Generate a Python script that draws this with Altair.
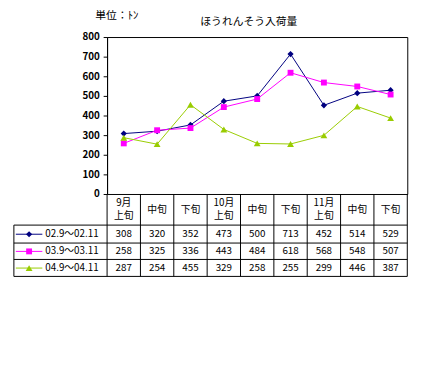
import altair as alt
import pandas as pd

cats = ["9月上旬", "9月中旬", "9月下旬", "10月上旬", "10月中旬", "10月下旬", "11月上旬", "11月中旬", "11月下旬"]
heads = ["9月\n上旬", "中旬", "下旬", "10月\n上旬", "中旬", "下旬", "11月\n上旬", "中旬", "下旬"]
series = ["02.9～02.11", "03.9～03.11", "04.9～04.11"]
v1 = [308, 320, 352, 473, 500, 713, 452, 514, 529]
v2 = [258, 325, 336, 443, 484, 618, 568, 548, 507]
v3 = [287, 254, 455, 329, 258, 255, 299, 446, 387]
colors = ["#000080", "#FF00FF", "#99CC00"]
shapes = ["diamond", "square", "triangle-up"]
sizes = [40, 36, 48]

FONT = "Noto Sans CJK JP"
W, H = 306, 160
row_y = [201, 218.5, 235.5]
hlines = [191.7, 210, 226.7, 244]

rows = []
for s, vals in zip(series, [v1, v2, v3]):
    for c, v in zip(cats, vals):
        rows.append({"cat": c, "series": s, "value": v})
df = pd.DataFrame(rows)
hdf = pd.DataFrame({"cat": cats, "head": heads})
one = pd.DataFrame({"k": [0]})

xs = alt.Scale(type="band", domain=cats, paddingInner=0, paddingOuter=0)
Xc = alt.X("cat:N", scale=xs, axis=None, bandPosition=0.5)
Y = alt.Y("value:Q", scale=alt.Scale(domain=[0, 800]),
          axis=alt.Axis(values=list(range(0, 801, 100)), title=None, grid=False,
                        domainColor="black", tickColor="black", tickSize=4,
                        labelPadding=4, labelFont=FONT, labelFontSize=10,
                        labelFontWeight="bold", labelColor="black"))

layers = []
for i, s in enumerate(series):
    b = alt.Chart(df).transform_filter(alt.datum.series == s)
    layers.append(b.mark_line(color=colors[i], strokeWidth=1).encode(x=Xc, y=Y))
for i, s in enumerate(series):
    b = alt.Chart(df).transform_filter(alt.datum.series == s)
    layers.append(b.mark_point(color=colors[i], filled=True, opacity=1, shape=shapes[i],
                               size=sizes[i]).encode(x=Xc, y=Y))
    layers.append(b.mark_text(font=FONT, fontSize=10, color="black", baseline="middle").encode(
        x=Xc, y=alt.value(row_y[i]), text="value:Q"))
    # legend cell
    lc = alt.Chart(one)
    layers.append(lc.mark_rule(color=colors[i], strokeWidth=1).encode(
        x=alt.value(-93), x2=alt.value(-66), y=alt.value(row_y[i])))
    layers.append(lc.mark_point(color=colors[i], filled=True, opacity=1, shape=shapes[i],
                                size=sizes[i]).encode(x=alt.value(-79.5), y=alt.value(row_y[i])))
    layers.append(lc.mark_text(font=FONT, fontSize=10, color="black", align="left",
                               baseline="middle").encode(
        x=alt.value(-63), y=alt.value(row_y[i]), text=alt.value(s)))

# header labels
hb = alt.Chart(hdf)
layers.append(hb.transform_filter("indexof(datum.head, '\\n') >= 0").mark_text(
    font=FONT, fontSize=10, color="black", lineBreak="\n", lineHeight=13, baseline="middle").encode(
    x=Xc, y=alt.value(169.5), text="head:N"))
layers.append(hb.transform_filter("indexof(datum.head, '\\n') < 0").mark_text(
    font=FONT, fontSize=10, color="black", baseline="middle").encode(
    x=Xc, y=alt.value(176), text="head:N"))
# vertical grid lines of table
layers.append(hb.mark_rule(color="black", strokeWidth=1).encode(
    x=alt.X("cat:N", scale=xs, axis=None, bandPosition=0), y=alt.value(H), y2=alt.value(hlines[-1])))
lc = alt.Chart(one)
layers.append(lc.mark_rule(color="black").encode(x=alt.value(W), y=alt.value(H), y2=alt.value(hlines[-1])))
layers.append(lc.mark_rule(color="black").encode(x=alt.value(-95), y=alt.value(hlines[0]), y2=alt.value(hlines[-1])))
for hy in hlines:
    layers.append(lc.mark_rule(color="black").encode(x=alt.value(-95), x2=alt.value(W), y=alt.value(hy)))
# titles
layers.append(lc.mark_text(font=FONT, fontSize=11, color="black", baseline="middle").encode(
    x=alt.value(144.5), y=alt.value(-15), text=alt.value("ほうれんそう入荷量")))
layers.append(lc.mark_text(font=FONT, fontSize=11, color="black", align="left", baseline="middle").encode(
    x=alt.value(-12), y=alt.value(-21), text=alt.value("単位：ﾄﾝ")))

chart = alt.layer(*layers).properties(
    width=W, height=H, autosize="none",
    padding={"left": 101, "top": 27, "right": 15, "bottom": 82},
    background="white",
).configure_view(stroke="black", strokeWidth=1)

chart.save("out.html", embed_options={"renderer": "svg", "actions": False})
